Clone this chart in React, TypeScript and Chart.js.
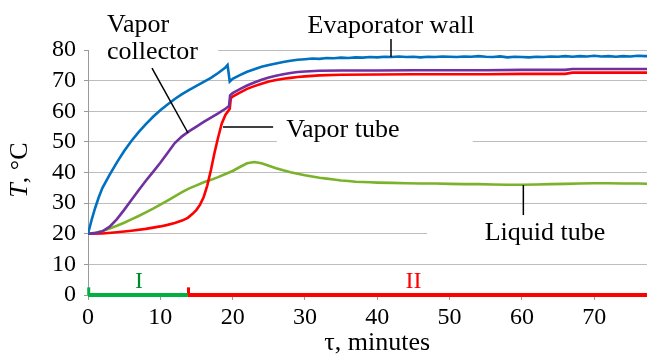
import React, { useEffect, useRef } from "react";
import { Chart, registerables } from "chart.js";

Chart.register(...registerables);

const FONT = '"Liberation Serif", "Times New Roman", serif';

// ---- tick values ----
const xTickValues = [0, 10, 20, 30, 40, 50, 60, 70];
const yTickValues = [0, 10, 20, 30, 40, 50, 60, 70, 80];
const xMax = 77.3;

// ---- Evaporator wall (blue) ----
const evapT = [0, 0.5, 1, 1.5, 2, 3, 4, 5, 6, 7, 8, 9, 10, 11, 12, 13, 14, 15, 16, 17, 18, 19, 19.3, 19.6, 20, 21, 22, 23, 24, 25, 26, 27, 28, 29, 30, 31, 32, 33, 34, 35, 36, 37, 38, 39, 40, 41, 42, 43, 44, 45, 46, 47, 48, 49, 50, 51, 52, 53, 54, 55, 56, 57, 58, 59, 60, 61, 62, 63, 64, 65, 66, 67, 68, 69, 70, 71, 72, 73, 74, 75, 76, 77, 77.5];
const evapV = [20, 24.5, 28.5, 32, 35, 39.3, 43.3, 47, 50.3, 53.2, 55.8, 58.2, 60.3, 62.2, 64, 65.6, 67, 68.3, 69.6, 70.9, 72.5, 74.3, 75.1, 69.7, 70.6, 71.8, 72.9, 73.7, 74.5, 75.1, 75.6, 76.1, 76.5, 76.8, 77.0, 77.2, 77.1, 77.4, 77.3, 77.5, 77.4, 77.6, 77.5, 77.7, 77.6, 77.8, 77.7, 77.9, 77.7, 77.8, 77.6, 77.8, 77.7, 77.9, 77.8, 77.7, 77.9, 77.8, 78.0, 77.8, 77.7, 77.9, 77.6, 77.8, 77.7, 77.6, 77.8, 77.7, 77.9, 77.8, 78.0, 77.8, 78.0, 77.9, 78.1, 77.9, 78.0, 77.8, 78.0, 77.9, 78.1, 78.0, 78.0];

// ---- Vapor collector (purple) ----
const collT = [0, 1, 2, 3, 4, 5, 6, 7, 8, 9, 10, 11, 12, 13, 14, 15, 16, 17, 18, 19, 19.5, 19.65, 20, 21, 22, 23, 24, 25, 26, 27, 28, 29, 30, 32, 35, 40, 45, 50, 55, 60, 66, 67, 77.5];
const collV = [20, 20.2, 20.8, 22.3, 24.8, 27.8, 31, 34.2, 37.3, 40.2, 43.2, 46.4, 49.6, 51.8, 53.5, 55, 56.5, 57.9, 59.3, 60.8, 61.7, 65.2, 65.9, 67.2, 68.4, 69.4, 70.3, 71, 71.6, 72.1, 72.5, 72.8, 73, 73.2, 73.3, 73.3, 73.4, 73.4, 73.4, 73.5, 73.5, 73.8, 73.8];

// ---- Vapor tube (red) ----
const vapT = [0, 2, 4, 6, 8, 10, 11, 12, 13, 13.8, 14.5, 15, 15.5, 16, 16.5, 17, 17.5, 18, 18.5, 19, 19.6, 19.75, 20, 21, 22, 23, 24, 25, 26, 27, 28, 29, 30, 32, 35, 40, 45, 50, 55, 60, 66, 67, 77.5];
const vapV = [20, 20.1, 20.5, 21, 21.6, 22.4, 22.9, 23.5, 24.3, 25.2, 26.6, 27.8, 29.5, 32, 35.8, 40.8, 46.5, 51.5, 56, 58.8, 60.8, 64.2, 64.8, 66.1, 67.3, 68.2, 69, 69.7, 70.2, 70.6, 70.9, 71.2, 71.4, 71.7, 71.9, 72, 72.1, 72.1, 72.1, 72.2, 72.2, 72.6, 72.6];

// ---- Liquid tube (green) ----
const liqT = [0, 1, 2, 3, 4, 5, 6, 7, 8, 9, 10, 11, 12, 13, 14, 15, 16, 17, 18, 19, 20, 21, 22, 23, 24, 25, 26, 27, 28, 29, 30, 31, 32, 33, 34, 35, 36, 37, 38, 39, 40, 42, 44, 46, 48, 50, 52, 54, 56, 58, 60, 62, 64, 66, 68, 70, 72, 74, 76, 77.5];
const liqV = [20, 20.3, 20.9, 21.7, 22.6, 23.6, 24.7, 25.8, 27, 28.2, 29.5, 30.8, 32.2, 33.6, 34.8, 35.8, 36.8, 37.6, 38.5, 39.5, 40.5, 41.8, 43, 43.4, 43, 42.2, 41.4, 40.7, 40.1, 39.6, 39.1, 38.7, 38.3, 38, 37.7, 37.4, 37.2, 37, 36.9, 36.8, 36.7, 36.6, 36.5, 36.4, 36.4, 36.3, 36.2, 36.2, 36.1, 36.0, 36.0, 36.1, 36.2, 36.3, 36.4, 36.5, 36.5, 36.4, 36.4, 36.3];

// ---- Phases ----
const phaseSplit = 13.8;
const phaseLabels = ["I", "II"];
const phaseLabelT = [7.05, 45];

const BLUE = "#0070c0";
const PURPLE = "#7030a0";
const RED = "#ff0000";
const LGREEN = "#7ab32a";
const PGREEN = "#00b040";

const pts = (t: number[], v: number[]) => t.map((x, i) => ({ x, y: v[i] }));

const annotPlugin = {
  id: "annot",
  beforeDatasetsDraw(chart: any) {
    const { ctx, scales } = chart;
    const x = scales.x, y = scales.y;
    const boxes = [
      [0.15, 18.0, 78.5, 81.5],
      [26.1, 53.2, 48.5, 51.5],
      [46.9, 80, 18.5, 21.5],
    ];
    ctx.save();
    ctx.fillStyle = "#ffffff";
    boxes.forEach(([t0, t1, v0, v1]) => {
      const x0 = x.getPixelForValue(t0), x1 = x.getPixelForValue(t1);
      const y0 = y.getPixelForValue(v1), y1 = y.getPixelForValue(v0);
      ctx.fillRect(x0, y0, x1 - x0, y1 - y0);
    });
    ctx.restore();
  },
  afterDraw(chart: any) {
    const { ctx, scales, chartArea } = chart;
    const x = scales.x, y = scales.y;
    const px = (t: number) => x.getPixelForValue(t);
    const py = (v: number) => y.getPixelForValue(v);
    ctx.save();
    // leaders
    ctx.strokeStyle = "#000";
    ctx.lineWidth = 1.5;
    const leaders = [
      [8.85, 74.1, 13.83, 52.9],
      [41.9, 83.6, 41.9, 77.7],
      [18.67, 54.86, 25.6, 54.86],
      [60.2, 35.9, 60.2, 26.1],
    ];
    leaders.forEach(([a, b, c, d]) => {
      ctx.beginPath();
      ctx.moveTo(px(a), py(b));
      ctx.lineTo(px(c), py(d));
      ctx.stroke();
    });
    // texts
    ctx.fillStyle = "#000";
    ctx.font = `26px ${FONT}`;
    ctx.textBaseline = "alphabetic";
    ctx.textAlign = "left";
    ctx.fillText("Vapor", px(2.63), py(85.9));
    ctx.fillText("collector", px(2.63), py(77.1));
    ctx.fillText("Vapor tube", px(27.4), py(51.6));
    ctx.textAlign = "center";
    ctx.fillText("Evaporator wall", px(41.9), py(85.55));
    ctx.fillText("Liquid tube", px(63.2), py(18.0));
    // phase labels
    ctx.font = `24px ${FONT}`;
    ctx.fillStyle = "#008a30";
    ctx.fillText(phaseLabels[0], px(phaseLabelT[0]), py(2.3));
    ctx.fillStyle = RED;
    ctx.fillText(phaseLabels[1], px(phaseLabelT[1]), py(2.3));
    // x title
    ctx.fillStyle = "#000";
    ctx.font = `26px ${FONT}`;
    ctx.fillText("τ, minutes", px(40), chartArea.bottom + 55);
    // y title
    ctx.translate(20, py(40.8));
    ctx.rotate(-Math.PI / 2);
    ctx.font = `italic 26px ${FONT}`;
    const w1 = ctx.measureText("T").width;
    ctx.font = `26px ${FONT}`;
    const w2 = ctx.measureText(", °C").width;
    const start = -(w1 + w2) / 2;
    ctx.textAlign = "left";
    ctx.textBaseline = "middle";
    ctx.font = `italic 26px ${FONT}`;
    ctx.fillText("T", start, 0);
    ctx.font = `26px ${FONT}`;
    ctx.fillText(", °C", start + w1, 0);
    ctx.restore();
  },
};

export default function App() {
  const ref = useRef<HTMLCanvasElement | null>(null);
  useEffect(() => {
    if (!ref.current) return;
    const line = (data: any[], color: string, width = 2.6, clip: any = undefined) => ({
      data,
      borderColor: color,
      backgroundColor: color,
      borderWidth: width,
      pointRadius: 0,
      tension: 0,
      fill: false,
      ...(clip !== undefined ? { clip } : {}),
    });
    const chart = new Chart(ref.current, {
      type: "line",
      data: {
        datasets: [
          line(pts([0, phaseSplit], [0, 0]), PGREEN, 4, false),
          line(pts([phaseSplit, xMax], [0, 0]), RED, 4, false),
          line(pts([0.1, 0.1], [0, 2.5]), PGREEN, 3, false),
          line(pts([phaseSplit + 0.1, phaseSplit + 0.1], [0, 2.5]), RED, 3, false),
          line(pts(evapT, evapV), BLUE),
          line(pts(collT, collV), PURPLE),
          line(pts(vapT, vapV), RED),
          line(pts(liqT, liqV), LGREEN),
        ] as any,
      },
      options: {
        animation: false,
        responsive: false,
        devicePixelRatio: 1,
        layout: { padding: { top: 50, right: 0, left: 0, bottom: 0 } },
        plugins: { legend: { display: false }, tooltip: { enabled: false }, title: { display: false } },
        scales: {
          x: {
            type: "linear",
            min: 0,
            max: xMax,
            afterBuildTicks: (s: any) => { s.ticks = xTickValues.map((v) => ({ value: v })); },
            afterFit: (s: any) => { s.height = 61; },
            grid: { drawOnChartArea: false, drawTicks: true, tickLength: 5, tickColor: "#9a9a9a" },
            border: { display: true, color: "#9a9a9a" },
            ticks: { font: { family: FONT, size: 24 }, color: "#000", padding: 3, maxRotation: 0, autoSkip: false },
          },
          y: {
            type: "linear",
            min: 0,
            max: 80,
            afterBuildTicks: (s: any) => { s.ticks = yTickValues.map((v) => ({ value: v })); },
            afterFit: (s: any) => { s.width = 88; },
            grid: { color: "#bdbdbd", lineWidth: 1, drawTicks: true, tickLength: 4, tickColor: "#9a9a9a" },
            border: { display: true, color: "#9a9a9a" },
            ticks: { font: { family: FONT, size: 24 }, color: "#000", padding: 8, autoSkip: false },
          },
        },
      } as any,
      plugins: [annotPlugin],
    });
    return () => chart.destroy();
  }, []);
  return (
    <div style={{ position: "absolute", left: 0, top: 0, width: 647, height: 356, background: "#fff" }}>
      <canvas ref={ref} width={647} height={356} style={{ display: "block" }} />
    </div>
  );
}
